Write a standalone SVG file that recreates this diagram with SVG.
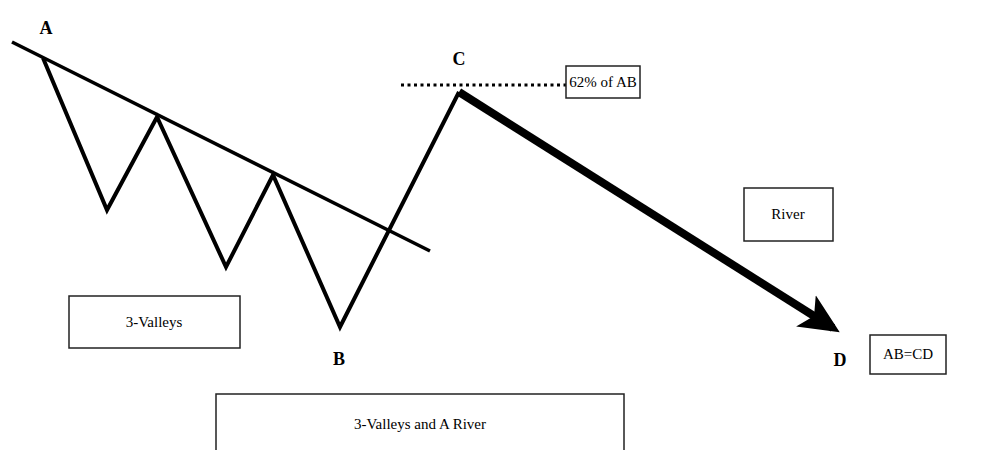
<svg xmlns="http://www.w3.org/2000/svg" width="1001" height="450" viewBox="0 0 1001 450">
<defs>
<style>
.box{fill:#fff;stroke:#222;stroke-width:1.5}
.bt{font-family:"Liberation Serif",serif;font-size:15px;fill:#000;text-anchor:middle}
.lb{font-family:"Liberation Serif",serif;font-size:18px;font-weight:bold;fill:#000;text-anchor:middle}
.ln{fill:none;stroke:#000;stroke-width:4;stroke-linejoin:miter}
</style>
<marker id="ah" markerWidth="5" markerHeight="5" refX="4" refY="2.5" orient="auto" markerUnits="strokeWidth">
<path d="M0,0.2 L5,2.5 L0,4.8 L1.2,2.5 Z" fill="#000"/>
</marker>
</defs>
<rect width="1001" height="450" fill="#fff"/>
<g id="connectors">
<line x1="12" y1="42" x2="430" y2="251" stroke="#000" stroke-width="3.5"/>
<polyline class="ln" points="43,58 107,210 157,117 226,267 273,175 340,327 459,92"/>
<line x1="401" y1="85" x2="566" y2="85" stroke="#000" stroke-width="3" stroke-dasharray="3,3.5"/>
<line x1="459" y1="92" x2="833" y2="328" stroke="#000" stroke-width="8" marker-end="url(#ah)"/>
</g>
<g id="label-A"><text class="lb" x="46" y="34">A</text></g>
<g id="label-C"><text class="lb" x="459" y="65">C</text></g>
<g id="label-B"><text class="lb" x="339" y="365">B</text></g>
<g id="label-D"><text class="lb" x="840" y="366">D</text></g>
<g id="box-62"><rect class="box" x="566" y="66" width="74" height="32"/><text class="bt" x="603" y="87">62% of AB</text></g>
<g id="box-river"><rect class="box" x="744" y="188" width="89" height="53"/><text class="bt" x="788" y="219">River</text></g>
<g id="box-abcd"><rect class="box" x="870" y="335" width="76" height="39"/><text class="bt" x="908" y="359">AB=CD</text></g>
<g id="box-valleys"><rect class="box" x="69" y="296" width="171" height="52"/><text class="bt" x="154" y="327">3-Valleys</text></g>
<g id="box-title"><rect class="box" x="216" y="394" width="408" height="60"/><text class="bt" x="420" y="429">3-Valleys and A River</text></g>
</svg>
